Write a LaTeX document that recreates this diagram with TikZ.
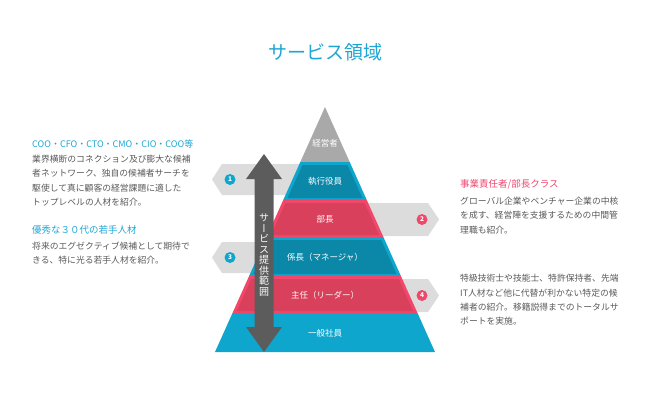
\documentclass[tikz,border=0pt]{standalone}
\usepackage{fontspec}
\setmainfont{Noto Sans CJK JP}
\newfontfamily\vertfont[RawFeature=+vert]{Noto Sans CJK JP}
\usetikzlibrary{calc}

\definecolor{titlecyan}{HTML}{1FA6D4}
\definecolor{pyrblue}{HTML}{0FA6CE}
\definecolor{pyrdeep}{HTML}{0B87A8}
\definecolor{pyrrose}{HTML}{F0476A}
\definecolor{pyrcrimson}{HTML}{D9405B}
\definecolor{pyrgray}{HTML}{A9A9A9}
\definecolor{flaggray}{HTML}{DCDCDC}
\definecolor{spanarrow}{HTML}{5C5C5C}
\definecolor{bodygray}{HTML}{595959}
\definecolor{rosetext}{HTML}{F0466E}

\begin{document}
\begin{tikzpicture}[x=1pt, y=-1pt,
  layertext/.style={text=white, font=\fontsize{8.5}{10}\selectfont},
  bodytext/.style={anchor=north west, inner sep=0pt, align=left, text=bodygray, font=\fontsize{8.8}{14.4}\selectfont},
  headtext/.style={anchor=west, inner sep=0pt, font=\fontsize{9.5}{12}\selectfont},
  flag/.style={fill=flaggray},
  badge/.style={circle, inner sep=0pt, minimum size=11pt, text=white, font=\fontsize{6.5}{7}\selectfont\bfseries}]
  \useasboundingbox (0,0) rectangle (650,407);

  % title
  \node[text=titlecyan, font=\fontsize{19}{22}\selectfont] (title) at (325,52) {サービス領域};

  % grey flags behind the pyramid
  \fill[flag] (212,179.5) -- (222,164) -- (320,164) -- (320,195) -- (222,195) -- cycle;
  \fill[flag] (212,257.5) -- (222,242) -- (320,242) -- (320,273) -- (222,273) -- cycle;
  \fill[flag] (330,203) -- (428,203) -- (439,219.5) -- (428,236) -- (330,236) -- cycle;
  \fill[flag] (330,279) -- (428,279) -- (439,295.5) -- (428,312) -- (330,312) -- cycle;

  % pyramid
  \coordinate (apex) at (325,107);
  \coordinate (bl) at (215,352);
  \coordinate (br) at (435,352);
  \fill[pyrgray] (apex) -- ({325+55*0.449},162) -- ({325-55*0.449},162) -- cycle;
  \foreach \ya/\yb/\outer/\inner in {162/200/pyrblue/pyrdeep, 200/237/pyrrose/pyrcrimson,
                                     237/276/pyrblue/pyrdeep, 276/313/pyrrose/pyrcrimson} {
    \fill[\outer] ({325-(\ya-107)*0.449},\ya) -- ({325+(\ya-107)*0.449},\ya)
      -- ({325+(\yb-107)*0.449},\yb) -- ({325-(\yb-107)*0.449},\yb) -- cycle;
    \fill[\inner] ({325-(\ya+3-107)*0.449+3.5},{\ya+3}) -- ({325+(\ya+3-107)*0.449-3.5},{\ya+3})
      -- ({325+(\yb-2-107)*0.449-3.5},{\yb-2}) -- ({325-(\yb-2-107)*0.449+3.5},{\yb-2}) -- cycle;
  }
  \fill[pyrblue] ({325-206*0.449},313) -- ({325+206*0.449},313) -- (br) -- (bl) -- cycle;

  \node[layertext] (ceo) at (325,143) {経営者};
  \node[layertext] (officer) at (325,181) {執行役員};
  \node[layertext] (director) at (325,219) {部長};
  \node[layertext] (manager) at (325,257) {係長（マネージャ）};
  \node[layertext] (leader) at (325,295) {主任（リーダー）};
  \node[layertext] (staff) at (325,333) {一般社員};

  % numbered badges
  \node[badge, fill=pyrblue] (b1) at (230,179.5) {1};
  \node[badge, fill=pyrrose] (b2) at (422,219.5) {2};
  \node[badge, fill=pyrblue] (b3) at (230,257.5) {3};
  \node[badge, fill=pyrrose] (b4) at (422,295.5) {4};

  % service range arrow
  \fill[spanarrow] (264,154) -- (282,179) -- (273.5,179) -- (273.5,327) -- (282,327)
    -- (264,352) -- (246,327) -- (254.5,327) -- (254.5,179) -- (246,179) -- cycle;
  \node[text=white, align=center, inner sep=0pt, font=\vertfont\fontsize{10}{10.5}\selectfont] (span) at (264,255)
    {サ\\ー\\ビ\\ス\\提\\供\\範\\囲};

  % left texts
  \node[headtext, text=titlecyan, font=\fontsize{9}{12}\selectfont] (exechead) at (32,144) {COO・CFO・CTO・CMO・CIO・COO等};
  \node[bodytext] (execbody) at (32,154.6) {業界横断のコネクション及び膨大な候補\\者ネットワーク、独自の候補者サーチを\\駆使して真に顧客の経営課題に適した\\トップレベルの人材を紹介。};
  \node[headtext, text=titlecyan] (younghead) at (32,230) {優秀な３０代の若手人材};
  \node[bodytext] (youngbody) at (32,241.6) {将来のエグゼクティブ候補として期待で\\きる、特に光る若手人材を紹介。};

  % right texts
  \node[headtext, text=rosetext] (midhead) at (460,184) {事業責任者/部長クラス};
  \node[bodytext] (midbody) at (460,196.6) {グローバル企業やベンチャー企業の中核\\を成す、経営陣を支援するための中間管\\理職も紹介。};
  \node[bodytext] (specbody) at (460,274) {特級技術士や技能士、特許保持者、先端\\IT人材など他に代替が利かない特定の候\\補者の紹介。移籍説得までのトータルサ\\ポートを実施。};
\end{tikzpicture}
\end{document}
